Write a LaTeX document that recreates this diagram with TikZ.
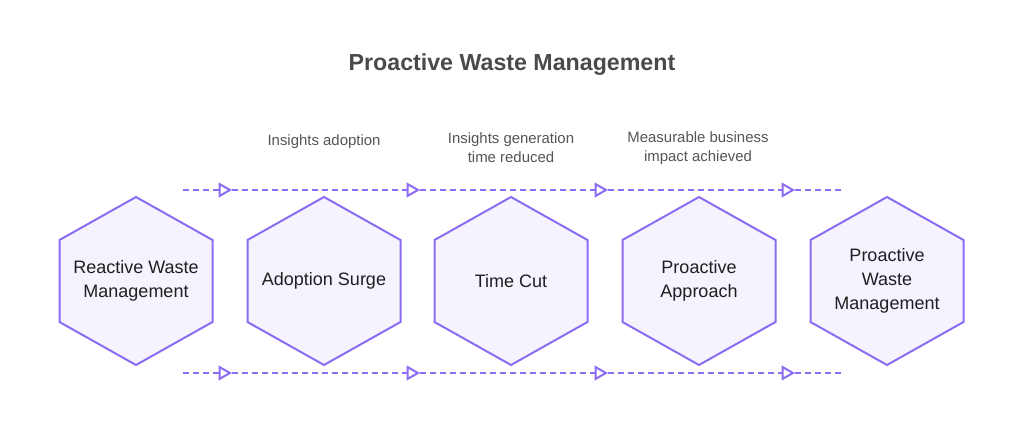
\documentclass[tikz,border=0pt]{standalone}
\usepackage{fontspec}
\setmainfont{Liberation Sans}
\usetikzlibrary{arrows.meta,positioning,calc,backgrounds}
\definecolor{Ink}{HTML}{1F1F1F}
\definecolor{TitleInk}{HTML}{4A4A4A}
\definecolor{NoteInk}{HTML}{555555}
\definecolor{Violet}{HTML}{8B6CF3}
\definecolor{VioletLight}{HTML}{F5F3FE}

\begin{document}
\begin{tikzpicture}[x=0.75pt,y=-0.75pt,
  hex/.style={minimum width=114.75pt,minimum height=61.5pt,inner sep=0pt,outer sep=0pt,align=center,text=Ink,font=\fontsize{13.5}{18}\selectfont},
  hexline/.style={draw=Violet,fill=VioletLight,line width=1.5pt},
  note/.style={align=center,text=NoteInk,font=\fontsize{11.2}{14.25}\selectfont},
  flowline/.style={draw=Violet,line width=1.5pt,dash pattern=on 4.5pt off 3pt},
  flow/.style={flowline,-{Triangle[open,length=10pt,width=11pt]}}]
\useasboundingbox (0,0) rectangle (1024,431);
% title
\node[text=TitleInk,font=\fontsize{17.4}{20}\selectfont\bfseries] (title) at (512,65) {Proactive Waste Management};
% stages
\node[hex] (reactive) at (136,281) {Reactive Waste\\Management};
\node[hex] (surge) at (324,281) {Adoption Surge};
\node[hex] (timecut) at (511,281) {Time Cut};
\node[hex] (approach) at (699,281) {Proactive\\Approach};
\node[hex] (proactive) at (887,281) {Proactive\\Waste\\Management};
\begin{pgfonlayer}{background}
\fill[white] (0,0) rectangle (1024,431);
\draw[hexline] (reactive.north west) -- ([yshift=32.25pt]reactive.north) -- (reactive.north east) -- (reactive.south east) -- ([yshift=-32.25pt]reactive.south) -- (reactive.south west) -- cycle;
\draw[hexline] (surge.north west) -- ([yshift=32.25pt]surge.north) -- (surge.north east) -- (surge.south east) -- ([yshift=-32.25pt]surge.south) -- (surge.south west) -- cycle;
\draw[hexline] (timecut.north west) -- ([yshift=32.25pt]timecut.north) -- (timecut.north east) -- (timecut.south east) -- ([yshift=-32.25pt]timecut.south) -- (timecut.south west) -- cycle;
\draw[hexline] (approach.north west) -- ([yshift=32.25pt]approach.north) -- (approach.north east) -- (approach.south east) -- ([yshift=-32.25pt]approach.south) -- (approach.south west) -- cycle;
\draw[hexline] (proactive.north west) -- ([yshift=32.25pt]proactive.north) -- (proactive.north east) -- (proactive.south east) -- ([yshift=-32.25pt]proactive.south) -- (proactive.south west) -- cycle;
\end{pgfonlayer}
% notes
\node[note] (adoption) at (324,142) {Insights adoption};
\node[note] (reduced) at (511,148) {Insights generation\\time reduced};
\node[note] (impact) at (698,148) {Measurable business\\impact achieved};
% flow lines
\coordinate (top0) at (183,190);
\coordinate (top1) at (232,190);
\coordinate (top2) at (420,190);
\coordinate (top3) at (608,190);
\coordinate (top4) at (795,190);
\coordinate (top5) at (843,190);
\coordinate (bot0) at (183,373);
\coordinate (bot1) at (232,373);
\coordinate (bot2) at (420,373);
\coordinate (bot3) at (608,373);
\coordinate (bot4) at (795,373);
\coordinate (bot5) at (843,373);
\draw[flow] (top0) -- (top1);
\draw[flow] (top1) -- (top2);
\draw[flow] (top2) -- (top3);
\draw[flow] (top3) -- (top4);
\draw[flowline] (top4) -- (top5);
\draw[flow] (bot0) -- (bot1);
\draw[flow] (bot1) -- (bot2);
\draw[flow] (bot2) -- (bot3);
\draw[flow] (bot3) -- (bot4);
\draw[flowline] (bot4) -- (bot5);
\end{tikzpicture}
\end{document}
